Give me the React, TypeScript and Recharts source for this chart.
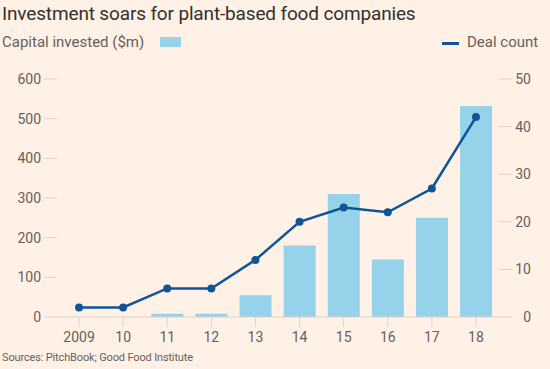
import { ComposedChart, Bar, Line, XAxis, YAxis } from "recharts"

const years = ["2009", "10", "11", "12", "13", "14", "15", "16", "17", "18"]
const capitalInvested = [0, 0, 8, 8, 55, 180, 310, 145, 250, 532]
const dealCount = [2, 2, 6, 6, 12, 20, 23, 22, 27, 42]
const leftTicks = [0, 100, 200, 300, 400, 500, 600]
const rightTicks = [0, 10, 20, 30, 40, 50]

const data = years.map((year, i) => ({
  year,
  capital: capitalInvested[i],
  deals: dealCount[i],
}))

const FONT = "Roboto, sans-serif"
const TEXT = "#66605c"
const RULE = "#ddd3c9"
const BAR = "#96d2e9"
const LINE = "#0f5499"

function RightTick({ x, y, payload }: any) {
  return (
    <text x={x + 19} y={y} dy="0.355em" textAnchor="end" fill={TEXT} fontSize={14} fontFamily={FONT}>
      {payload.value}
    </text>
  )
}

export default function App() {
  return (
    <div
      style={{
        position: "absolute",
        left: 0,
        top: 0,
        width: 550,
        height: 369,
        background: "#fff1e5",
        fontFamily: FONT,
        overflow: "hidden",
      }}
    >
      <div style={{ position: "absolute", left: 2, top: 2, fontSize: 19, color: "#33302e", whiteSpace: "nowrap", letterSpacing: -0.15 }}>
        Investment soars for plant-based food companies
      </div>
      <div style={{ position: "absolute", left: 2, top: 33, fontSize: 15, color: TEXT, whiteSpace: "nowrap" }}>
        Capital invested ($m)
      </div>
      <div style={{ position: "absolute", left: 160, top: 37, width: 21, height: 10, background: BAR }} />
      <div style={{ position: "absolute", left: 442, top: 42, width: 17, height: 3, background: LINE }} />
      <div style={{ position: "absolute", left: 467, top: 33, fontSize: 15, color: TEXT, whiteSpace: "nowrap" }}>
        Deal count
      </div>
      <div style={{ position: "absolute", left: 2, top: 351, fontSize: 11, color: TEXT, whiteSpace: "nowrap", letterSpacing: -0.15 }}>
        Sources: PitchBook; Good Food Institute
      </div>
      <div style={{ position: "absolute", left: 0, top: 0 }}>
        <ComposedChart
          width={550}
          height={369}
          data={data}
          margin={{ top: 79, right: 0, bottom: 22, left: 0 }}
          barCategoryGap="14%"
        >
          <XAxis
            dataKey="year"
            height={30}
            tickSize={10}
            tickMargin={5}
            tick={{ fill: TEXT, fontSize: 14, fontFamily: FONT }}
            tickLine={{ stroke: RULE }}
            axisLine={{ stroke: RULE }}
          />
          <YAxis
            yAxisId="left"
            orientation="left"
            width={57}
            domain={[0, 600]}
            ticks={leftTicks}
            tickSize={13}
            tickMargin={3}
            tick={{ fill: TEXT, fontSize: 14, fontFamily: FONT }}
            tickLine={{ stroke: RULE }}
            axisLine={false}
          />
          <YAxis
            yAxisId="right"
            orientation="right"
            width={52}
            domain={[0, 50]}
            ticks={rightTicks}
            tickSize={14}
            tickMargin={0}
            tick={<RightTick />}
            tickLine={{ stroke: RULE }}
            axisLine={false}
          />
          <Bar yAxisId="left" dataKey="capital" fill={BAR} isAnimationActive={false} />
          <Line
            yAxisId="right"
            dataKey="deals"
            stroke={LINE}
            strokeWidth={2.5}
            dot={{ r: 4, fill: LINE, stroke: LINE, strokeWidth: 0 }}
            activeDot={false}
            isAnimationActive={false}
          />
        </ComposedChart>
      </div>
    </div>
  )
}
